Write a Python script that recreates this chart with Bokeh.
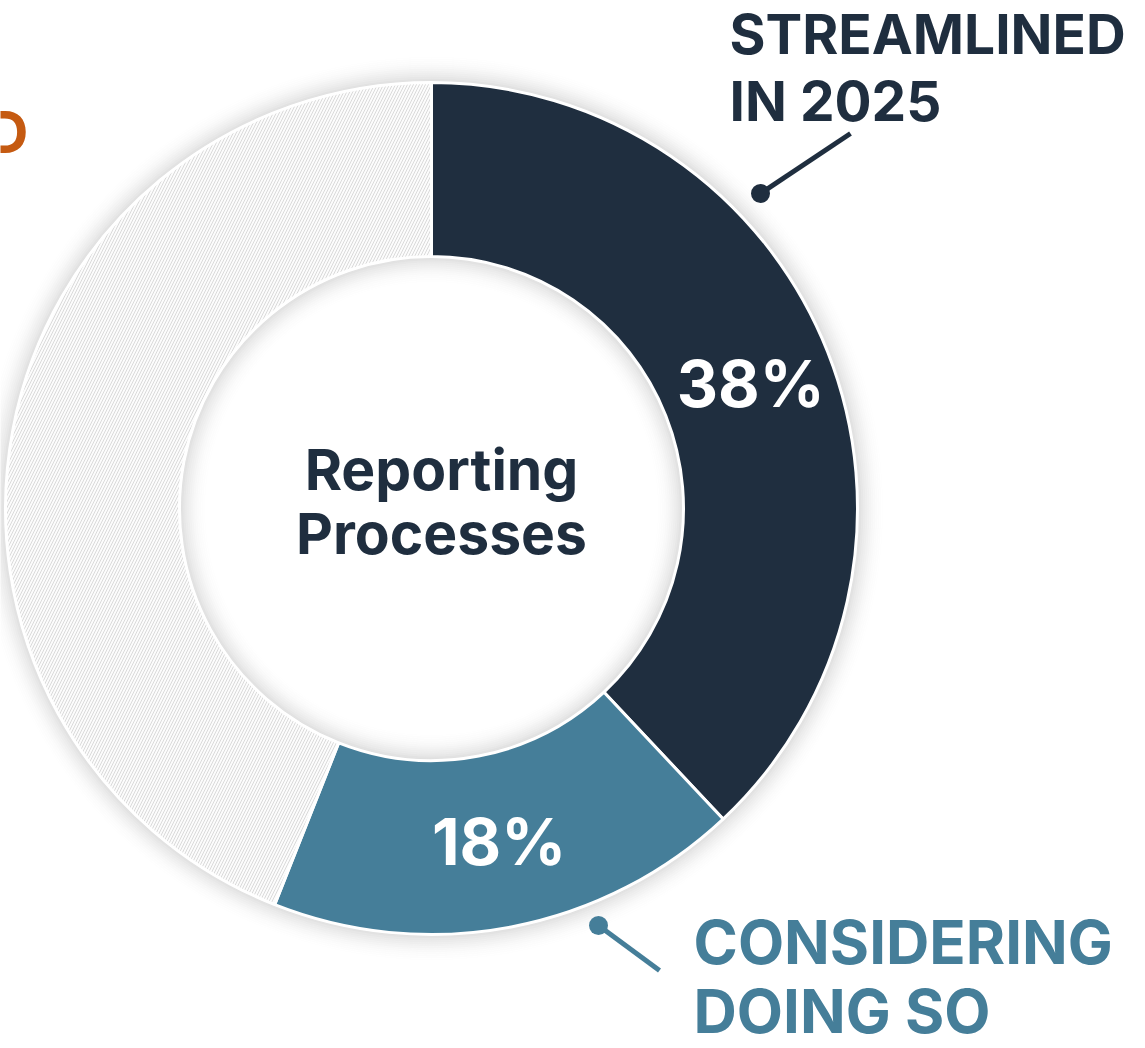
import numpy as np
from bokeh.plotting import figure
from bokeh.models import Range1d
from bokeh.embed import file_html
from bokeh.resources import INLINE
from bokeh.core.properties import value

# ---- data ----
categories = ["Streamlined in 2025", "Considering doing so", "Other"]
shares = [38, 18, 44]
pct_labels = ["38%", "18%", ""]
colors = ["#1F2E3F", "#457E99", "#FCFCFC"]
center_title = ["Reporting", "Processes"]
label_top = ["STREAMLINED", "IN 2025"]
label_bottom = ["CONSIDERING", "DOING SO"]
label_left = ["NOT PLANNED"]

W, H = 1145, 1048

def py(y):  # picture y (down) -> data y (up)
    return H - y

p = figure(width=W, height=H, x_range=Range1d(0, W), y_range=Range1d(0, H),
           output_backend="svg", toolbar_location=None, min_border=0,
           x_axis_type=None, y_axis_type=None)
p.grid.visible = False
p.outline_line_color = None
p.background_fill_color = "white"
p.border_fill_color = "white"

cx, cy = 431, py(508)
R_OUT, R_IN = 426, 252

# soft shadow around the ring (outside) and in the hole (inside)
steps = np.arange(0, 28, 2)
for s in steps:
    a = 0.13 * (1 - s / 28) ** 2
    p.annulus(x=cx, y=cy, inner_radius=R_OUT + s, outer_radius=R_OUT + s + 2,
              fill_color="#000000", fill_alpha=a, line_color=None)
    p.annulus(x=cx, y=cy, inner_radius=R_IN - s - 2, outer_radius=R_IN - s,
              fill_color="#000000", fill_alpha=a, line_color=None)

# wedges
cum = np.concatenate([[0], np.cumsum(shares)])
starts = np.pi / 2 - 2 * np.pi * cum[:-1] / 100
ends = np.pi / 2 - 2 * np.pi * cum[1:] / 100
for i in range(len(shares)):
    kw = {}
    if i == 2:
        kw = dict(hatch_pattern="/", hatch_color="#DADADA", hatch_scale=6,
                  hatch_weight=1.0, hatch_alpha=1.0)
    p.annular_wedge(x=cx, y=cy, inner_radius=R_IN, outer_radius=R_OUT,
                    start_angle=starts[i], end_angle=ends[i], direction="clock",
                    fill_color=colors[i], line_color="white", line_width=3, **kw)

# percentage labels in ring
mid = (starts + ends) / 2
r_mid = (R_IN + R_OUT) / 2
lx = [cx + r_mid * np.cos(m) + 4 for m in mid[:2]]
ly = [cy + r_mid * np.sin(m) for m in mid[:2]]
p.text(x=lx, y=ly, text=pct_labels[:2], text_font=value("Inter"), text_font_style="bold",
       text_font_size="64px", text_align="center", text_baseline="middle", text_color="white")

MID = dict(text_font=value("Inter"), text_font_style="bold", text_baseline="middle")

# center title
p.text(x=[441, 441], y=[py(469), py(533)], text=center_title, text_font_size="57px",
       text_align="center", text_color=colors[0], **MID)

# top-right callout
p.text(x=[729, 729], y=[py(33), py(100)], text=label_top, text_font_size="55px",
       text_align="left", text_color=colors[0], **MID)
p.line(x=[760, 850], y=[py(193), py(133)], line_color=colors[0], line_width=5)
p.scatter(x=[760], y=[py(193)], size=19, fill_color=colors[0], line_color=None)

# bottom-right callout
p.text(x=[693, 693], y=[py(941), py(1010)], text=label_bottom, text_font_size="60px",
       text_align="left", text_color=colors[1], **MID)
p.line(x=[598, 659], y=[py(925), py(970)], line_color=colors[1], line_width=5)
p.scatter(x=[598], y=[py(925)], size=19, fill_color=colors[1], line_color=None)

# left callout (mostly out of view, as in the source)
p.text(x=[28], y=[py(131)], text=label_left, text_font_size="58px",
       text_align="right", text_color="#C55A11", **MID)

open("out.html", "w").write(file_html(p, INLINE))
